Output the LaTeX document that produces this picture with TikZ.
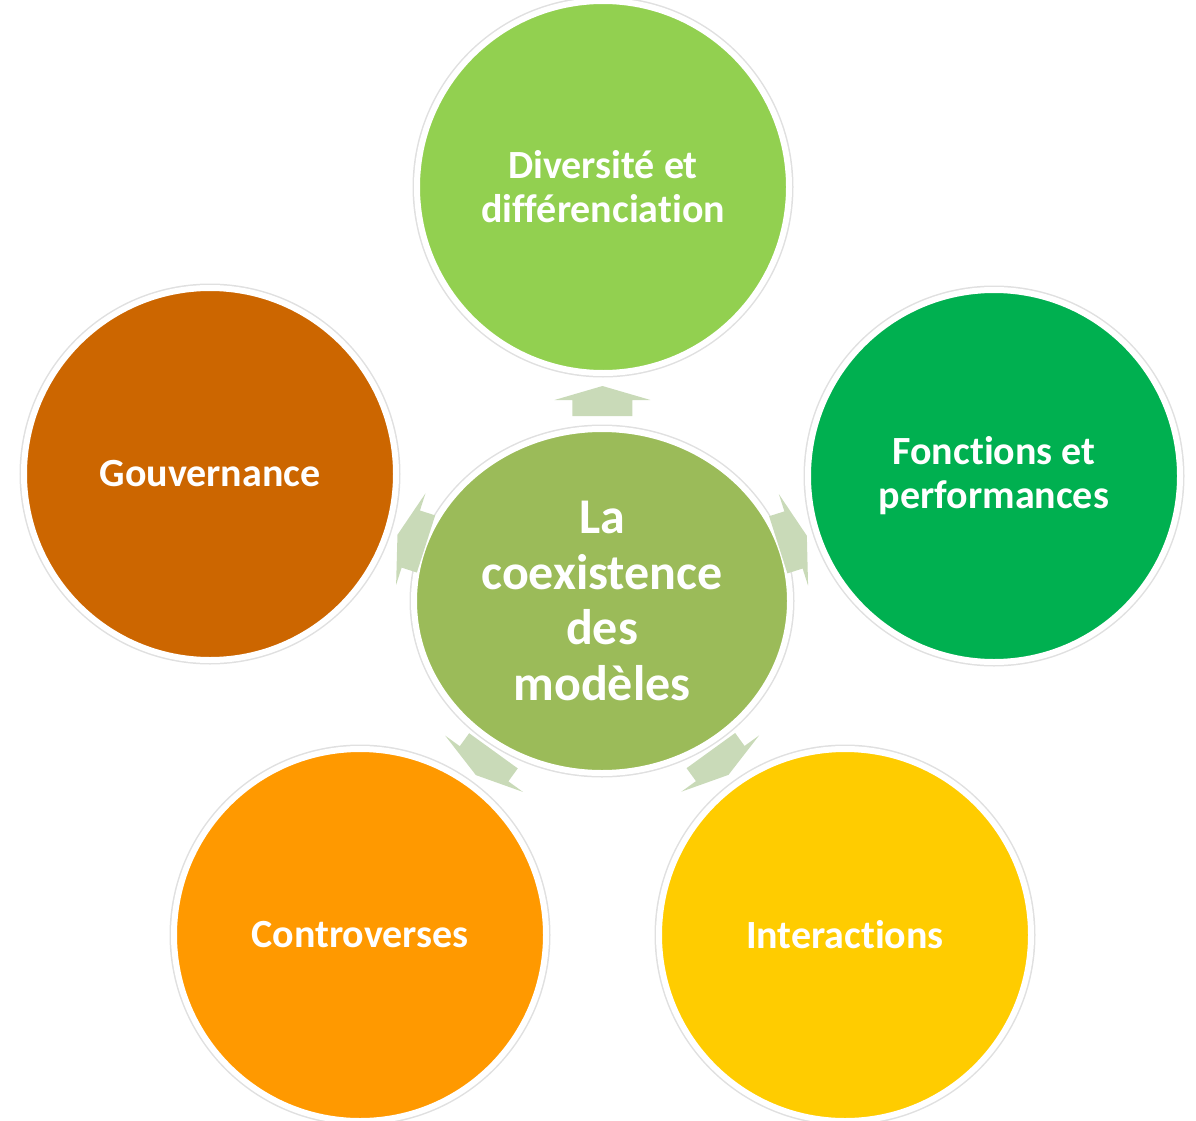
\documentclass[tikz,border=0pt]{standalone}
\usepackage{fontspec}
\setmainfont{Carlito}[Ligatures=NoCommon]
\usetikzlibrary{calc,shapes.geometric}

\definecolor{vertclair}{HTML}{92D050}
\definecolor{vertfonce}{HTML}{00B050}
\definecolor{brun}{HTML}{CC6600}
\definecolor{orange}{HTML}{FF9900}
\definecolor{jaune}{HTML}{FFCC00}
\definecolor{olive}{HTML}{9BBB59}
\definecolor{fleche}{RGB}{201,218,184}

\begin{document}
\begin{tikzpicture}[
		x=1pt, y=1pt,
		bulle/.style={circle, draw=white, line width=6pt, minimum size=372pt, inner sep=0pt,
			text=white, align=center, font=\fontsize{40}{44}\selectfont\bfseries,
			preaction={draw=black!12, line width=9pt}},
		centre/.style={ellipse, draw=white, line width=6pt, minimum width=376pt, minimum height=344pt,
			inner sep=0pt, fill=olive, text=white, align=center,
			font=\fontsize{50}{55.5}\selectfont\bfseries,
			preaction={draw=black!12, line width=9pt}},
		fleche/.pic={\fill[fleche] (-15,-30) -- (1,-30) -- (1,-48) -- (15,0) -- (1,48) -- (1,30) -- (-15,30) -- cycle;}
	]
	\useasboundingbox (0,0) rectangle (1196,-1121);

	\node[bulle, fill=vertclair] (diversite) at (603,-187) {Diversité et\\différenciation};
	\node[bulle, fill=vertfonce] (fonctions) at (994,-476) {Fonctions et\\performances};
	\node[bulle, fill=brun] (gouvernance) at (210,-474) {Gouvernance};
	\node[bulle, fill=orange] (controverses) at (360,-935) {Controverses};
	\node[bulle, fill=jaune] (interactions) at (845,-935) {Interactions};

	\node[centre] (coexistence) at (602,-601) {La\\coexistence\\des\\modèles};

	% fleches vers l'exterieur
	\pic[rotate=90] at ($(coexistence)!200pt!(diversite)$) {fleche};
	\pic[rotate=17.7] at ($(coexistence)!200pt!(fonctions)$) {fleche};
	\pic[rotate=162.2] at ($(coexistence)!200pt!(gouvernance)$) {fleche};
	\pic[rotate=-125.9] at ($(coexistence)!200pt!(controverses)$) {fleche};
	\pic[rotate=-54.1] at ($(coexistence)!200pt!(interactions)$) {fleche};
\end{tikzpicture}
\end{document}
